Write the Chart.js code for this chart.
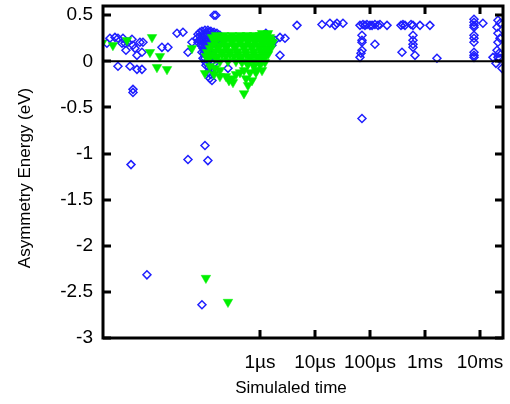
<!DOCTYPE html>
<html>
<head>
<meta charset="utf-8">
<script src="https://cdn.jsdelivr.net/npm/chart.js@4"></script>
<style>
  html, body { margin: 0; padding: 0; background: #fff; }
</style>
</head>
<body>
<canvas id="chart" width="510" height="404"></canvas>
<script>
// axis ticks
const xTickValues = [1e-6, 1e-5, 1e-4, 1e-3, 1e-2];
const xTickLabels = ['1µs', '10µs', '100µs', '1ms', '10ms'];
const yTickValues = [-3, -2.5, -2, -1.5, -1, -0.5, 0, 0.5];
const xTitle = 'Simulaled time';
const yTitle = 'Asymmetry Energy (eV)';

// blue open diamonds: simulated time (s), asymmetry energy (eV)
const blueTimes = [
  1.65e-9, 1.87e-9, 2.31e-9, 2.62e-9, 3.10e-9, 3.23e-9, 3.51e-9, 3.66e-9, 3.98e-9, 4.71e-9,
  4.91e-9, 5.34e-9, 5.80e-9, 6.58e-9, 7.15e-9, 7.46e-9, 2.62e-9, 4.33e-9, 5.80e-9, 7.15e-9,
  4.91e-9, 4.91e-9, 1.65e-8, 2.12e-8, 3.10e-8, 3.98e-8, 4.91e-8, 5.80e-8, 1.46e-7, 1.58e-7,
  4.52e-9, 4.91e-8, 1.0e-7, 1.13e-7, 8.81e-9, 8.81e-8,
  7.15e-8, 7.46e-8, 8.11e-8, 8.81e-8, 1.0e-7, 1.13e-7, 1.28e-7, 1.46e-7, 1.65e-7, 1.87e-7,
  7.78e-8, 8.81e-8, 1.0e-7, 1.13e-7, 1.28e-7, 1.46e-7, 1.65e-7,
  8.46e-8, 9.59e-8, 1.09e-7, 1.23e-7, 1.40e-7,
  9.2e-8, 1.04e-7, 1.18e-7, 1.34e-7,
  9.59e-8, 1.09e-7, 1.23e-7, 1.40e-7,
  1.0e-7, 1.13e-7, 1.28e-7, 1.46e-7,
  1.04e-7, 1.18e-7, 1.34e-7, 1.52e-7,
  1.13e-7, 1.28e-7, 1.23e-7, 1.34e-7, 2.62e-7,
  8.11e-8, 9.2e-8, 1.04e-7, 1.18e-7, 1.34e-7, 1.52e-7, 1.72e-7, 1.95e-7,
  7.46e-8, 8.46e-8, 9.59e-8, 1.09e-7, 1.23e-7, 1.40e-7, 1.58e-7,
  8.81e-8, 1.0e-7, 1.13e-7, 1.28e-7, 1.46e-7,
  8.81e-8, 1.0e-7, 1.13e-7, 1.04e-7, 9.2e-8, 1.18e-7,
  1.28e-6, 1.65e-6, 1.65e-6, 1.87e-6, 2.31e-6, 2.85e-6, 2.31e-6, 4.71e-6,
  1.34e-5, 1.87e-5, 2.31e-5, 2.51e-5, 3.23e-5,
  6.58e-5, 7.46e-5, 8.11e-5, 8.81e-5, 1.0e-4, 1.09e-4, 1.23e-4, 1.40e-4, 1.52e-4, 2.04e-4,
  7.15e-5, 7.15e-5, 7.15e-5, 7.15e-5, 6.86e-5, 6.58e-5, 1.23e-4, 7.15e-5,
  3.66e-4, 3.98e-4, 4.33e-4, 5.57e-4, 6.05e-4, 8.11e-4, 1.23e-3,
  6.05e-4, 6.05e-4, 6.05e-4, 6.05e-4, 3.82e-4, 6.58e-4, 1.65e-3,
  7.78e-3, 7.78e-3, 7.78e-3, 7.78e-3, 7.78e-3, 7.78e-3, 7.78e-3, 7.78e-3, 7.78e-3, 7.78e-3,
  1.13e-2,
  2.12e-2, 2.31e-2, 2.04e-2, 2.12e-2, 2.31e-2, 2.12e-2, 2.04e-2, 2.21e-2, 2.12e-2, 2.31e-2,
  1.72e-2, 1.95e-2, 2.51e-2
];
const blueEnergies = [
  0.196, 0.25, 0.26, 0.25, 0.196, 0.25, 0.196, 0.12, 0.207, 0.24,
  0.174, 0.141, 0.065, 0.207, 0.098, 0.207, -0.054, -0.054, -0.087, -0.087,
  -0.304, -0.337, 0.152, 0.152, 0.304, 0.315, 0.098, 0.207, 0.50, 0.50,
  -1.12, -1.065, -0.913, -1.076, -2.315, -2.64,
  0.25, 0.293, 0.315, 0.326, 0.337, 0.337, 0.326, 0.315, 0.304, 0.283,
  0.228, 0.26, 0.283, 0.283, 0.272, 0.26, 0.25,
  0.185, 0.207, 0.217, 0.217, 0.207,
  0.141, 0.152, 0.163, 0.141,
  0.087, 0.098, 0.076, 0.065,
  0.033, 0.011, -0.011, -0.022,
  -0.043, -0.065, -0.076, -0.098,
  -0.12, -0.141, -0.185, -0.207, -0.076,
  0.272, 0.293, 0.304, 0.315, 0.304, 0.283, 0.272, 0.25,
  0.207, 0.228, 0.24, 0.25, 0.25, 0.24, 0.217,
  0.163, 0.174, 0.185, 0.174, 0.152,
  0.098, 0.109, 0.12, -0.011, 0.033, 0.043,
  0.304, 0.228, 0.174, 0.228, 0.26, 0.25, 0.065, 0.39,
  0.40, 0.413, 0.39, 0.413, 0.413,
  0.39, 0.40, 0.39, 0.40, 0.39, 0.39, 0.40, 0.39, 0.40, 0.39,
  0.283, 0.228, 0.207, 0.12, 0.087, 0.043, 0.185, -0.62,
  0.39, 0.40, 0.39, 0.40, 0.39, 0.39, 0.39,
  0.283, 0.228, 0.185, 0.152, 0.098, 0.065, 0.033,
  0.457, 0.424, 0.39, 0.37, 0.283, 0.25, 0.207, 0.098, 0.065, 0.043,
  0.413,
  0.446, 0.413, 0.37, 0.304, 0.25, 0.207, 0.12, 0.087, 0.043, 0.033,
  0.043, -0.022, -0.076
];

// green filled down triangles
const greenTimes = [
  1.34e-9, 2.12e-9, 3.82e-9, 1.09e-8, 1.0e-8, 1.52e-8, 1.34e-8, 2.04e-8, 5.80e-8,
  1.04e-7, 2.62e-7,
  1.34e-7, 1.87e-7, 2.62e-7, 3.66e-7, 4.91e-7, 6.58e-7, 8.81e-7, 1.18e-6, 1.52e-6,
  1.09e-6, 1.40e-6,
  1.58e-7, 2.21e-7, 3.10e-7, 4.33e-7, 5.80e-7, 7.78e-7, 1.0e-6, 1.34e-6,
  1.58e-7, 2.21e-7, 3.10e-7, 4.33e-7, 5.80e-7, 7.78e-7, 1.0e-6, 1.28e-6, 1.58e-6,
  1.52e-7, 2.21e-7, 3.10e-7, 4.33e-7, 6.05e-7, 8.11e-7, 1.09e-6, 1.40e-6, 1.72e-6,
  1.34e-7, 1.87e-7, 2.62e-7, 3.66e-7, 5.12e-7, 6.86e-7, 9.2e-7, 1.18e-6, 1.52e-6,
  1.23e-7, 1.72e-7, 2.41e-7, 3.51e-7, 5.12e-7, 7.15e-7, 1.0e-6, 1.28e-6, 1.58e-6,
  1.52e-7, 2.04e-7, 2.85e-7, 3.98e-7, 5.57e-7, 7.78e-7, 1.04e-6, 1.34e-6,
  1.40e-7, 2.04e-7, 2.85e-7, 3.98e-7, 5.57e-7, 7.78e-7, 1.09e-6, 1.40e-6,
  1.23e-7, 1.72e-7, 2.41e-7, 3.37e-7, 4.71e-7, 6.58e-7, 9.2e-7, 1.23e-6,
  1.18e-7, 1.58e-7, 4.33e-7, 6.58e-7, 9.2e-7, 1.18e-6,
  1.87e-7, 2.62e-7, 3.66e-7, 5.57e-7, 7.78e-7, 1.09e-6,
  1.23e-7, 1.52e-7, 1.87e-7, 1.46e-7, 1.87e-7, 2.41e-7, 3.10e-7, 3.66e-7, 3.23e-7, 2.73e-7,
  4.71e-7, 6.05e-7, 7.78e-7, 1.0e-6, 1.23e-6, 5.12e-7, 6.58e-7, 8.46e-7, 1.09e-6,
  4.33e-7, 8.46e-7,
  5.57e-7, 7.15e-7, 6.05e-7, 5.12e-7,
  1.0e-7, 1.09e-7, 1.04e-7
];
const greenEnergies = [
  0.196, 0.174, 0.228, 0.26, 0.098, 0.054, -0.065, -0.087, 0.141,
  -2.35, -2.61,
  0.26, 0.26, 0.26, 0.26, 0.26, 0.26, 0.26, 0.26, 0.26,
  0.304, 0.304,
  0.283, 0.283, 0.283, 0.283, 0.283, 0.283, 0.283, 0.283,
  0.234, 0.234, 0.234, 0.234, 0.234, 0.234, 0.234, 0.234, 0.234,
  0.207, 0.207, 0.207, 0.207, 0.207, 0.207, 0.207, 0.207, 0.207,
  0.174, 0.174, 0.174, 0.174, 0.174, 0.174, 0.174, 0.174, 0.174,
  0.141, 0.141, 0.141, 0.141, 0.141, 0.141, 0.141, 0.141, 0.141,
  0.109, 0.109, 0.109, 0.109, 0.109, 0.109, 0.109, 0.109,
  0.076, 0.076, 0.076, 0.076, 0.076, 0.076, 0.076, 0.076,
  0.054, 0.054, 0.054, 0.054, 0.054, 0.054, 0.054, 0.054,
  0.033, 0.033, 0.033, 0.033, 0.033, 0.033,
  0.0, 0.0, 0.0, 0.0, 0.0, 0.0,
  -0.054, -0.076, -0.098, -0.141, -0.163, -0.163, -0.185, -0.141, -0.228, -0.207,
  -0.011, -0.033, -0.054, -0.033, -0.011, -0.098, -0.12, -0.098, -0.098,
  -0.12, -0.12,
  -0.185, -0.207, -0.26, -0.348,
  -0.13, 0.098, 0.054
];

const FONT = "'Liberation Sans', Arial, sans-serif";

const framePlugin = {
  id: 'frame',
  afterDatasetsDraw(chart) {
    const { ctx, chartArea: a, scales: { x, y } } = chart;
    ctx.save();
    ctx.strokeStyle = '#000';
    // zero line
    ctx.lineWidth = 2;
    const y0 = y.getPixelForValue(0);
    ctx.beginPath();
    ctx.moveTo(a.left, y0);
    ctx.lineTo(a.right, y0);
    ctx.stroke();
    // inward ticks on all four sides
    ctx.lineWidth = 3;
    ctx.beginPath();
    xTickValues.forEach(v => {
      const px = Math.round(x.getPixelForValue(v));
      ctx.moveTo(px, a.bottom); ctx.lineTo(px, a.bottom - 8);
      ctx.moveTo(px, a.top); ctx.lineTo(px, a.top + 8);
    });
    yTickValues.forEach(v => {
      const py = Math.round(y.getPixelForValue(v));
      ctx.moveTo(a.left, py); ctx.lineTo(a.left + 8, py);
      ctx.moveTo(a.right, py); ctx.lineTo(a.right - 8, py);
    });
    ctx.stroke();
    ctx.strokeRect(a.left, a.top, a.right - a.left, a.bottom - a.top);
    ctx.restore();
  },
  afterDraw(chart) {
    const { ctx } = chart;
    ctx.save();
    ctx.fillStyle = '#000';
    ctx.font = '17px ' + FONT;
    ctx.textAlign = 'center';
    ctx.textBaseline = 'middle';
    ctx.fillText(xTitle, 291, 388);
    ctx.translate(25, 178);
    ctx.rotate(-Math.PI / 2);
    ctx.fillText(yTitle, 0, 0);
    ctx.restore();
  }
};

new Chart(document.getElementById('chart'), {
  type: 'scatter',
  data: {
    datasets: [
      {
        label: 'green',
        order: 0,
        data: greenTimes.map((t, i) => ({ x: t, y: greenEnergies[i] })),
        pointStyle: 'triangle',
        rotation: 180,
        pointRadius: 5.5,
        backgroundColor: 'rgb(0,240,0)',
        borderColor: 'rgb(0,240,0)',
        borderWidth: 0.5
      },
      {
        label: 'blue',
        order: 1,
        data: blueTimes.map((t, i) => ({ x: t, y: blueEnergies[i] })),
        pointStyle: 'rectRot',
        pointRadius: 4,
        backgroundColor: 'rgba(0,0,0,0)',
        borderColor: '#1f1fff',
        borderWidth: 1.5
      }
    ]
  },
  options: {
    responsive: false,
    animation: false,
    devicePixelRatio: 1,
    layout: { padding: { top: 5, right: 7, left: 0, bottom: 0 } },
    plugins: { legend: { display: false }, tooltip: { enabled: false } },
    scales: {
      x: {
        type: 'logarithmic',
        min: 1.4e-9,
        max: 2.62e-2,
        grid: { display: false, drawTicks: false },
        border: { display: false },
        afterBuildTicks: s => { s.ticks = xTickValues.map(v => ({ value: v, major: true })); },
        afterFit: s => { s.height = 66; s.paddingLeft = 0; s.paddingRight = 0; },
        ticks: {
          autoSkip: false,
          maxRotation: 0,
          padding: 13,
          color: '#000',
          font: { family: FONT, size: 19 },
          callback: (v) => xTickLabels[xTickValues.indexOf(v)]
        }
      },
      y: {
        min: -3,
        max: 0.6,
        grid: { display: false, drawTicks: false },
        border: { display: false },
        afterBuildTicks: s => { s.ticks = yTickValues.map(v => ({ value: v })); },
        afterFit: s => { s.width = 103; s.paddingTop = 0; s.paddingBottom = 0; },
        ticks: {
          padding: 10,
          color: '#000',
          font: { family: FONT, size: 19 },
          callback: v => String(v)
        }
      }
    }
  },
  plugins: [framePlugin]
});
</script>
</body>
</html>
